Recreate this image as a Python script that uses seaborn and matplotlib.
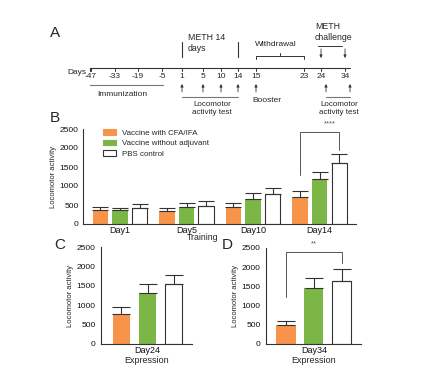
import pandas as pd
import matplotlib.pyplot as plt
import seaborn as sns
from matplotlib.patches import Patch

# groups and colours
groups = ["Vaccine with CFA/IFA", "Vaccine without adjuvant", "PBS control"]
colors = ["#F7944A", "#7BB646", "#FFFFFF"]

# panel B: training days
train_days = ["Day1", "Day5", "Day10", "Day14"]
train_cfa = [370, 350, 450, 720]
train_noadj = [360, 450, 670, 1190]
train_pbs = [430, 470, 790, 1600]
train_cfa_err = [80, 75, 105, 160]
train_noadj_err = [50, 90, 140, 190]
train_pbs_err = [85, 130, 170, 235]

# panel C: day 24
c_day = ["Day24"]
c_vals = [780, 1320, 1540]
c_err = [180, 225, 240]

# panel D: day 34
d_day = ["Day34"]
d_vals = [490, 1470, 1630]
d_err = [120, 250, 320]

# timeline (panel A)
tl_days = ["-47", "-33", "-19", "-5", "1", "5", "10", "14", "15", "23", "24", "34"]
tl_x = [91, 115, 138, 162, 182, 203, 221, 238, 256, 304, 321, 345]

LINE = "#333333"


def draw_bars(ax, days, vals_by_group, errs_by_group, gap, capsize):
    rows = []
    for g, vals in zip(groups, vals_by_group):
        for d, v in zip(days, vals):
            rows.append({"day": d, "group": g, "value": v})
    df = pd.DataFrame(rows)
    sns.barplot(data=df, x="day", y="value", hue="group", hue_order=groups,
                palette=colors, width=0.885, gap=gap, errorbar=None,
                legend=False, ax=ax, saturation=1)
    for cont, errs, col in zip(ax.containers, errs_by_group, colors):
        for bar, e in zip(cont, errs):
            if col == "#FFFFFF":
                bar.set_edgecolor(LINE)
                bar.set_linewidth(0.8)
            else:
                bar.set_edgecolor(col)
                bar.set_linewidth(0)
            cx = bar.get_x() + bar.get_width() / 2
            h = bar.get_height()
            ax.errorbar(cx, h, yerr=[[0], [e]], fmt="none", ecolor=LINE,
                        elinewidth=0.8, capsize=capsize, capthick=0.8, zorder=1)
    ax.set_ylim(0, 2500)
    ax.set_yticks([0, 500, 1000, 1500, 2000, 2500])
    ax.set_ylabel("Locomotor activity", fontsize=5.5, labelpad=2)
    ax.set_xlabel("")
    for s in ["top", "right"]:
        ax.spines[s].set_visible(False)
    for s in ["left", "bottom"]:
        ax.spines[s].set_color(LINE)
        ax.spines[s].set_linewidth(0.8)
    ax.tick_params(axis="y", labelsize=6, length=2.5, width=0.7, pad=1, colors="#111111")
    ax.tick_params(axis="x", labelsize=6.5, length=0, pad=1.5, colors="#111111")
    ax.grid(False)


def bracket(ax, x1, x2, y_top, y1, y2, label, lx):
    ax.plot([x1, x1, x2, x2], [y1, y_top, y_top, y2], color="#555555", lw=0.7, clip_on=False)
    ax.text(lx, y_top + 120, label, ha="center", va="bottom", fontsize=5.5,
            color="#555555", clip_on=False)


def main():
    sns.set_theme(style="white")
    plt.rcParams["font.family"] = ["Liberation Sans", "DejaVu Sans"]

    fig = plt.figure(figsize=(4.21, 3.70), dpi=100)

    # overlay in pixel coordinates for the timeline and labels
    ov = fig.add_axes([0, 0, 1, 1])
    ov.set_xlim(0, 421)
    ov.set_ylim(370, 0)
    ov.axis("off")
    ov.set_zorder(5)
    fs = 6

    ov.plot([90, 350], [68, 68], color=LINE, lw=0.8)
    ov.plot([90, 90], [68, 71], color=LINE, lw=0.8)
    for lab, x in zip(tl_days, tl_x):
        ov.plot([x, x], [68, 71], color=LINE, lw=0.7)
        ov.text(x, 77, lab, ha="center", va="center", fontsize=fs)
    ov.text(77, 73, "Days", ha="center", va="center", fontsize=fs)

    ov.plot([90, 163], [85, 85], color="#777777", lw=0.8)
    ov.text(122, 94, "Immunization", ha="center", va="center", fontsize=fs)

    ov.plot([182, 182], [42, 57], color=LINE, lw=0.8)
    ov.plot([238, 238], [42, 57], color=LINE, lw=0.8)
    ov.text(188, 33, "METH 14\ndays", ha="left", va="top", fontsize=6.3, linespacing=1.3)

    ov.plot([256, 256, 304, 304], [59, 56, 56, 59], color=LINE, lw=0.7)
    ov.plot([280, 280], [56, 53], color=LINE, lw=0.7)
    ov.text(276, 44, "Withdrawal", ha="center", va="center", fontsize=fs)

    ov.text(315, 22, "METH\nchallenge", ha="left", va="top", fontsize=6.3, linespacing=1.3)
    ov.plot([318, 342], [46, 46], color=LINE, lw=0.7)

    arrow = dict(arrowstyle="-|>", lw=0.6, color=LINE, mutation_scale=4,
                 shrinkA=0, shrinkB=0)
    for x in [321, 345]:
        ov.annotate("", xy=(x, 58), xytext=(x, 49), arrowprops=arrow)
    for x in [182, 203, 221, 238, 256, 326, 350]:
        ov.annotate("", xy=(x, 84), xytext=(x, 92), arrowprops=arrow)

    ov.plot([182, 238], [97, 97], color="#777777", lw=0.8)
    ov.text(212, 101, "Locomotor\nactivity test", ha="center", va="top",
            fontsize=5.8, linespacing=1.3)
    ov.text(267, 100, "Booster", ha="center", va="center", fontsize=fs)
    ov.plot([326, 350], [97, 97], color="#777777", lw=0.8)
    ov.text(339, 101, "Locomotor\nactivity test", ha="center", va="top",
            fontsize=5.8, linespacing=1.3)

    for lab, x, y in [("A", 55, 33), ("B", 55, 118), ("C", 60, 245), ("D", 227, 245)]:
        ov.text(x, y, lab, ha="center", va="center", fontsize=11)
    ov.text(203, 238, "Training", ha="center", va="center", fontsize=6.3)

    # panel B
    axb = fig.add_axes([83.3 / 421, 146 / 370, 273 / 421, 95 / 370])
    draw_bars(axb, train_days, [train_cfa, train_noadj, train_pbs],
              [train_cfa_err, train_noadj_err, train_pbs_err], gap=0.21, capsize=5.5)
    axb.set_xlim(-0.55, 3.55)
    c = axb.containers
    x_or = c[0][3].get_x() + c[0][3].get_width() / 2
    x_gr = c[1][3].get_x() + c[1][3].get_width() / 2
    x_wh = c[2][3].get_x() + c[2][3].get_width() / 2
    bracket(axb, x_or, x_wh, 2420, 1290, 1960, "****", (x_gr + x_wh) / 2)
    handles = [Patch(facecolor=col, edgecolor=(LINE if col == "#FFFFFF" else col), lw=0.8)
               for col in colors]
    axb.legend(handles, groups, loc="upper left", bbox_to_anchor=(0.06, 1.035),
               frameon=False, fontsize=5.7, handlelength=1.6, handleheight=0.75,
               labelspacing=0.4, handletextpad=0.8, borderaxespad=0)

    # panel C
    axc = fig.add_axes([100.7 / 421, 26.3 / 370, 91 / 421, 96.4 / 370])
    draw_bars(axc, c_day, [[v] for v in c_vals], [[e] for e in c_err],
              gap=0.35, capsize=6.5)
    axc.set_xlim(-0.53, 0.5)
    axc.set_xlabel("Expression", fontsize=6.5, labelpad=1)

    # panel D
    axd = fig.add_axes([265.7 / 421, 26 / 370, 95.3 / 421, 96 / 370])
    draw_bars(axd, d_day, [[v] for v in d_vals], [[e] for e in d_err],
              gap=0.31, capsize=6.5)
    axd.set_xlim(-0.51, 0.5)
    axd.set_xlabel("Expression", fontsize=6.5, labelpad=1)
    c = axd.containers
    x1 = c[0][0].get_x() + c[0][0].get_width() / 2
    x3 = c[2][0].get_x() + c[2][0].get_width() / 2
    bracket(axd, x1, x3, 2400, 1220, 2120, "**", (x1 + x3) / 2)

    fig.savefig("out.png", dpi=100)


if __name__ == "__main__":
    main()
